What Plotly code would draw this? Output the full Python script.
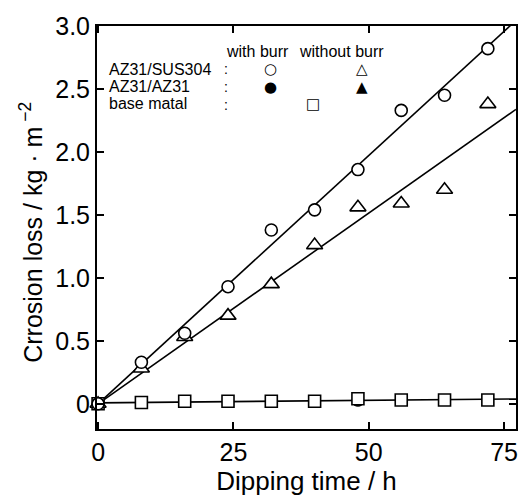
import numpy as np
import plotly.graph_objects as go

# Dipping time (h)
hours = [0, 8, 16, 24, 32, 40, 48, 56, 64, 72]
# AZ31/SUS304 with burr (open circles)
sus_with_burr = [0.0, 0.33, 0.56, 0.93, 1.38, 1.54, 1.86, 2.33, 2.45, 2.82]
# AZ31/SUS304 without burr (open triangles)
sus_without_burr = [0.0, 0.28, 0.53, 0.70, 0.95, 1.26, 1.56, 1.59, 1.70, 2.38]
# AZ31/AZ31 with / without burr (filled, hidden under base metal squares)
az_with_burr = [0.0, 0.01, 0.01, 0.01, 0.02, 0.02, 0.02, 0.03, 0.03, 0.03]
az_without_burr = [0.0, 0.01, 0.01, 0.01, 0.02, 0.02, 0.03, 0.03, 0.03, 0.03]
# base metal (open squares)
base_metal = [0.0, 0.01, 0.02, 0.02, 0.02, 0.02, 0.04, 0.03, 0.03, 0.03]

x_ticks = [0, 25, 50, 75]
y_ticks = [0, 0.5, 1.0, 1.5, 2.0, 2.5, 3.0]
y_tick_text = ["0", "0.5", "1.0", "1.5", "2.0", "2.5", "3.0"]

x = np.array(hours, dtype=float)
x_line = np.array([0.0, 77.2])


def fit_origin(yv):
    yv = np.array(yv, dtype=float)
    return float((x * yv).sum() / (x * x).sum())


fig = go.Figure()

LINE = dict(color="black", width=1.6)

# fitted lines
for series in (sus_with_burr, sus_without_burr):
    k = fit_origin(series)
    fig.add_trace(go.Scatter(x=x_line, y=k * x_line, mode="lines", line=LINE,
                             hoverinfo="skip", showlegend=False))
p = np.polyfit(x, np.array(base_metal, dtype=float), 1)
fig.add_trace(go.Scatter(x=x_line, y=np.polyval(p, x_line), mode="lines", line=LINE,
                         hoverinfo="skip", showlegend=False))

OUT = dict(color="black", width=1.6)
fig.add_trace(go.Scatter(x=hours, y=az_with_burr, mode="markers", showlegend=False,
                         cliponaxis=False,
                         marker=dict(symbol="circle", size=11, color="black")))
fig.add_trace(go.Scatter(x=hours, y=az_without_burr, mode="markers", showlegend=False,
                         cliponaxis=False,
                         marker=dict(symbol="triangle-up", size=11, color="black")))
fig.add_trace(go.Scatter(x=hours, y=base_metal, mode="markers", showlegend=False,
                         cliponaxis=False,
                         marker=dict(symbol="square", size=12, color="white", line=OUT)))
fig.add_trace(go.Scatter(x=hours, y=sus_without_burr, mode="markers", showlegend=False,
                         cliponaxis=False,
                         marker=dict(symbol="triangle-up", size=14, color="white", line=OUT)))
fig.add_trace(go.Scatter(x=hours, y=sus_with_burr, mode="markers", showlegend=False,
                         cliponaxis=False,
                         marker=dict(symbol="circle", size=12, color="white", line=OUT)))

FONT = "Liberation Sans, Arial, sans-serif"
L, R, T, B = 97, 516, 15, 434


def px(xp):
    return (xp - L) / (R - L)


def py(yp):
    return (B - yp) / (B - T)


ann = []
leg_font = dict(family=FONT, size=16, color="black")
sym_font = dict(family="DejaVu Sans", size=15, color="black")
ann.append(dict(text="with burr", x=px(257), y=py(42), font=leg_font))
ann.append(dict(text="without burr", x=px(341), y=py(42), font=leg_font))
rows = [("AZ31/SUS304", 60), ("AZ31/AZ31", 78), ("base matal", 96)]
for name, yy in rows:
    ann.append(dict(text=name, x=px(107), y=py(yy), xanchor="left", font=leg_font))
ann.append(dict(text=":<br>:<br>:", x=px(226), y=py(78),
                font=dict(family=FONT, size=14, color="black")))
ann.append(dict(text="○", x=px(270), y=py(60), font=sym_font))
ann.append(dict(text="△", x=px(362), y=py(60), font=sym_font))
ann.append(dict(text="●", x=px(270), y=py(78), font=sym_font))
ann.append(dict(text="▲", x=px(362), y=py(78), font=sym_font))
ann.append(dict(text="□", x=px(313), y=py(96), font=sym_font))
for a in ann:
    a.update(xref="paper", yref="paper", showarrow=False, yanchor="middle")
    a.setdefault("xanchor", "center")

# y-axis title
ann.append(dict(text="Crrosion loss / kg · m<sup> −2</sup>", xref="paper", yref="paper",
                x=px(31), y=py(230), textangle=-90, showarrow=False,
                xanchor="center", yanchor="middle",
                font=dict(family=FONT, size=25, color="black")))

axis_common = dict(showline=True, linecolor="black", linewidth=2, mirror="ticks",
                   ticks="inside", ticklen=7, tickwidth=1.5, tickcolor="black",
                   showgrid=False, zeroline=False,
                   tickfont=dict(family=FONT, size=25, color="black"))

fig.update_layout(
    width=531, height=500,
    margin=dict(l=L, r=531 - R, t=T, b=500 - B),
    paper_bgcolor="white", plot_bgcolor="white",
    xaxis=dict(axis_common, range=[-0.2, 77.2], tickvals=x_ticks,
               title=dict(text="Dipping time / h", standoff=4,
                          font=dict(family=FONT, size=26, color="black"))),
    yaxis=dict(axis_common, range=[-0.2, 3.0], tickvals=y_ticks, ticktext=y_tick_text),
    annotations=ann,
    showlegend=False,
)

fig.write_html("out.html")
